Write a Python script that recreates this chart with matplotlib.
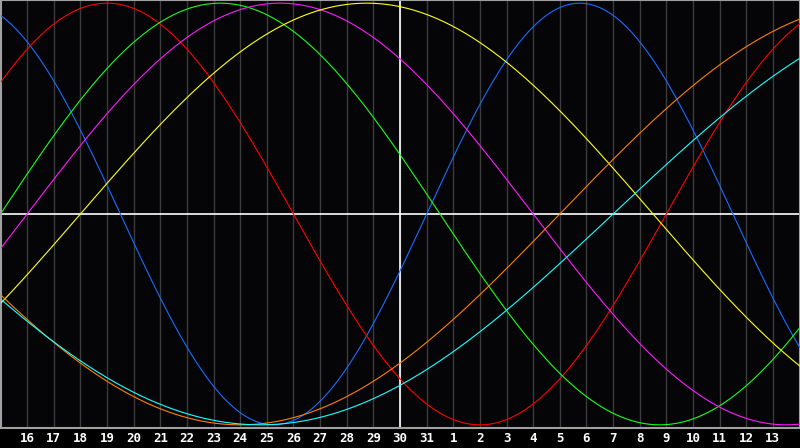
import numpy as np
import matplotlib
matplotlib.use("Agg")
import matplotlib.pyplot as plt

# ------------------ Chart Data --------------------

# day-of-month labels under each grid line (15th at the left edge)
day_labels = list(range(16, 32)) + list(range(1, 14))

# biorhythm cycles, lengths in days
cycle_names = ["physical", "emotional", "intellectual", "intuitive",
               "aesthetic", "awareness", "spiritual"]
cycle_lengths = [23, 28, 33, 38, 43, 48, 53]
cycle_colors = ["#1a6cff", "#ff0000", "#19ff19", "#ff19ff",
                "#ffff19", "#ff8000", "#19ffff"]

# days since birth at the left edge of the chart
age_at_start = 18315
today_offset = 15  # the 30th

# ------------------ Plot --------------------------

bg_color = "#050508"
grid_color = "#3c3c3c"
border_color = "#a0a0a0"

fig = plt.figure(figsize=(8, 4.48), dpi=100)
fig.patch.set_facecolor("#000000")
ax = fig.add_axes([0.5 / 800, 20 / 448, 799 / 800, 428 / 448])
ax.set_facecolor(bg_color)

span = len(day_labels) + 1
t = np.linspace(0, span, 1601)

for i in range(1, span):
    ax.axvline(i, color=grid_color, lw=1.0, zorder=1)

ax.axhline(0, color="white", lw=1.2, zorder=2)
ax.axvline(today_offset, color="white", lw=1.2, zorder=2)

for name, length, color in zip(cycle_names, cycle_lengths, cycle_colors):
    ax.plot(t, np.sin(2 * np.pi * (age_at_start + t) / length),
            color=color, lw=0.8, zorder=3, label=name)

ax.set_xlim(0, span)
ax.set_ylim(-1.015, 1.015)
ax.set_xticks([])
ax.set_yticks([])
for s in ax.spines.values():
    s.set_color(border_color)
    s.set_linewidth(1.5)

for i, d in enumerate(day_labels):
    ax.text(i + 1, -1.066, str(d), color="white", fontsize=9,
            fontweight="bold", family="DejaVu Sans Mono",
            ha="center", va="center", clip_on=False)

fig.savefig("out.png", dpi=100, facecolor=fig.get_facecolor())
plt.close(fig)
